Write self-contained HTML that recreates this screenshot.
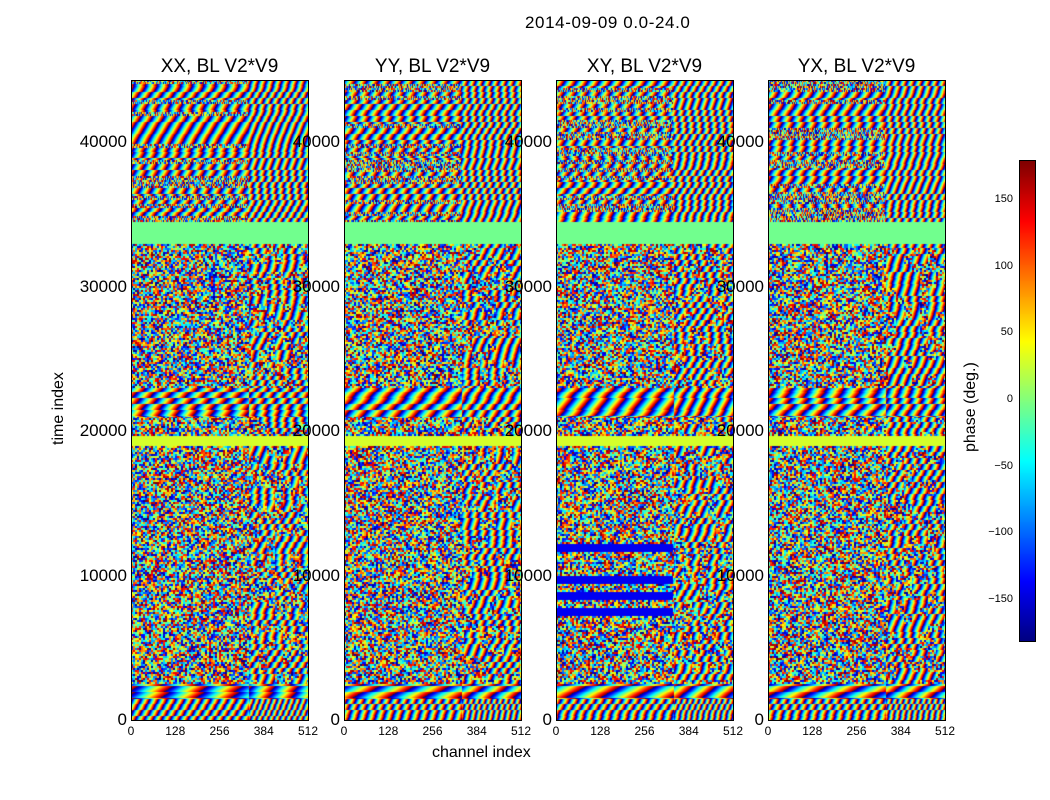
<!DOCTYPE html>
<html><head><meta charset="utf-8">
<style>
body{margin:0;background:#fff;font-family:"Liberation Sans","DejaVu Sans",sans-serif;}
#root{position:relative;width:1050px;height:800px;overflow:hidden;background:#fff;}
.t{position:absolute;white-space:nowrap;color:#000;}
canvas{position:absolute;}
.frame{position:absolute;border:1px solid #000;box-sizing:border-box;}
</style></head>
<body>
<div id="root">
<div class="t" style="left:525px;top:13px;font-size:17px;letter-spacing:0.6px;">2014-09-09 0.0-24.0</div>
<div class="t" style="left:432px;top:744px;font-size:16px;">channel index</div>
<div class="t" style="font-size:16px;transform:rotate(-90deg);transform-origin:0 0;top:445px;left:50px;">time index</div>
<div class="t" style="left:962px;top:452px;font-size:16px;transform:rotate(-90deg);transform-origin:0 0;">phase (deg.)</div>
</div>
<script>
const panelTitles=["XX, BL V2*V9","YY, BL V2*V9","XY, BL V2*V9","YX, BL V2*V9"];
const panelLeft=[131,344,556,768];
const yTicks=[0,10000,20000,30000,40000];
const xTicks=[0,128,256,384,512];
const cbTicks=[-150,-100,-50,0,50,100,150];
// time bands: start, end, kind (0 noise,1 fringe,2 solid), phase rate / value
const bandStart=[0,1500,2500,19000,19700,21000,23000,33000,34500];
const bandEnd=[1500,2500,19000,19700,21000,23000,33000,34500,44300];
const bandKind=[1,1,0,2,0,1,0,2,1];
const bandValue=[12,3,0,30,0,6,0,-5,9];
const T_MAX=44300,C_MAX=512,PH=[80,720],PW=177;
const root=document.getElementById('root');
function yPix(t){return PH[1]-(t/T_MAX)*(PH[1]-PH[0]);}
function jet(v){v=Math.max(0,Math.min(1,v));
 const r=Math.min(4*v-1.5,-4*v+4.5),g=Math.min(4*v-0.5,-4*v+3.5),b=Math.min(4*v+0.5,-4*v+2.5);
 const c=x=>Math.round(255*Math.max(0,Math.min(1,x)));return[c(r),c(g),c(b)];}
function hash(a,b,s){let h=(a*374761393+b*668265482+s*2147483647)|0;h=(h^(h>>>13))*1274126177|0;return ((h^(h>>>16))>>>0)/4294967296;}
panelLeft.forEach((L,p)=>{
 const cv=document.createElement('canvas');cv.width=PW;cv.height=640;
 cv.style.left=L+'px';cv.style.top=PH[0]+'px';
 
 
 root.appendChild(cv);
 const ctx=cv.getContext('2d');const im=ctx.createImageData(PW,640);
 for(let y=0;y<640;y++){const t=(PH[1]-PH[0]-y)/(640)*T_MAX;
  let bi=bandStart.findIndex((s,i)=>t>=s&&t<bandEnd[i]);if(bi<0)bi=8;
  const rowOff=hash(Math.floor(y/6),p,3)*6.28;
  const rowNoisy=hash(y>>2,p,11)>0.6;
  for(let x=0;x<PW;x++){let ph;
   const k=bandKind[bi];
   if(k===2)ph=bandValue[bi];
   else if(k===1){ if(bi===8&&rowNoisy&&x<117)ph=hash(x,y>>1,p+9)*360-180;
     else ph=((x*bandValue[bi]*0.06*(1+(x>117?0.5:0))+rowOff+y*0.3)%6.283)/6.283*360-180;}
   else{ if(x>117&&hash(x>>3,y>>3,p)>0.4)ph=((x*0.7+y*0.25+rowOff)%6.283)/6.283*360-180;
     else ph=hash(x>>1,y>>1,p+7)*360-180;
     if(p===2&&hash(0,y>>3,5)>0.85&&x<117&&t<15000)ph=-140;}
   const c=jet((ph+180)/360);const o=(y*PW+x)*4;
   im.data[o]=c[0];im.data[o+1]=c[1];im.data[o+2]=c[2];im.data[o+3]=255;}}
 ctx.putImageData(im,0,0);
 const f=document.createElement('div');f.className='frame';
 f.style.cssText+=`left:${L}px;top:80px;width:${PW+1}px;height:641px;`;
 
 
 root.appendChild(f);
 const tt=document.createElement('div');tt.className='t';tt.textContent=panelTitles[p];
 tt.style.cssText+=`left:${L}px;width:${PW}px;text-align:center;top:56px;font-size:19px;`;
 
 
 root.appendChild(tt);
 yTicks.forEach(v=>{const d=document.createElement('div');d.className='t';d.textContent=v;
  d.style.cssText+=`right:${1050-L+4}px;top:${yPix(v)-10}px;font-size:17px;`;
  
  
  root.appendChild(d);});
 xTicks.forEach(v=>{const d=document.createElement('div');d.className='t';d.textContent=v;
  const x=L+v/C_MAX*PW;d.style.cssText+=`left:${x-20}px;width:40px;text-align:center;top:724px;font-size:12px;`;
  
  
  root.appendChild(d);});
});
// colorbar
const cb=document.createElement('canvas');cb.width=15;cb.height=480;cb.style.left='1019px';cb.style.top='160px';cb.style.border='1px solid #000';


root.appendChild(cb);
const cx=cb.getContext('2d');for(let y=0;y<480;y++){const c=jet(1-y/480);cx.fillStyle=`rgb(${c})`;cx.fillRect(0,y,15,1);}
cbTicks.forEach(v=>{const d=document.createElement('div');d.className='t';d.textContent=String(v).replace('-','\u2212');
 d.style.cssText+=`right:${1050-1013}px;top:${640-(v+180)/360*480-7}px;font-size:11px;`;
 
 
 root.appendChild(d);});
</script>
</body></html>
